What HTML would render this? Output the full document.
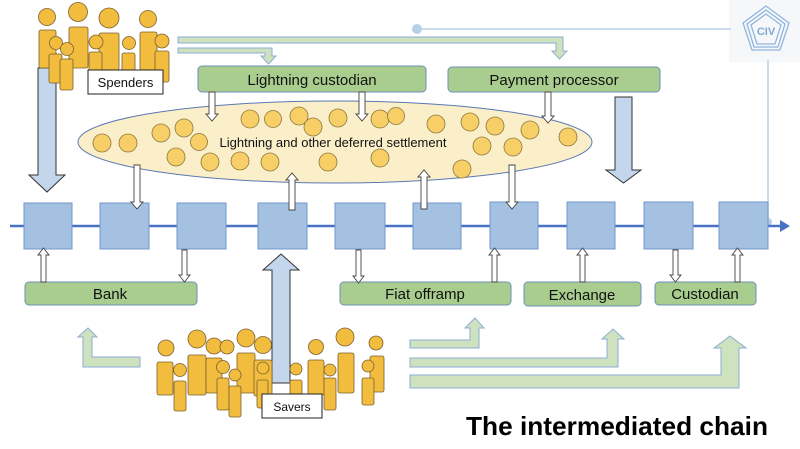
<!DOCTYPE html>
<html><head><meta charset="utf-8"><style>
html,body{margin:0;padding:0;background:#fff;}
svg{display:block;}
text{font-family:"Liberation Sans",sans-serif;}
</style></head><body>
<svg width="800" height="449" viewBox="0 0 800 449" xmlns="http://www.w3.org/2000/svg">
<!-- logo -->
<rect x="729" y="0" width="71" height="62" fill="#f6f7f9"/>
<g fill="none" stroke="#8fb6e0" stroke-width="1.3">
<polygon points="766,6 789,23 780,50 752,50 743,23"/>
<polygon points="766,10 785,24 778,47 754,47 747,24"/>
<polygon points="766,14 781,25 775,44 757,44 751,25"/>
</g>
<text x="766" y="35" font-size="11" font-weight="bold" fill="#7fa8d6" text-anchor="middle">CIV</text>
<line x1="418" y1="29" x2="731" y2="29" stroke="#b8cfe9" stroke-width="1.5"/>
<circle cx="417" cy="29" r="5" fill="#b8cfe9"/>
<line x1="768" y1="60" x2="768" y2="222" stroke="#b8cfe9" stroke-width="1.5"/>
<circle cx="768" cy="222" r="4" fill="#b8cfe9"/>

<!-- main line -->
<line x1="10" y1="226" x2="782" y2="226" stroke="#4a72c4" stroke-width="2.5"/>
<polygon points="790,226 780,220 780,232" fill="#4a72c4"/>
<g fill="#a4c1e2" stroke="#7097cc" stroke-width="1">
<rect x="24" y="203" width="48" height="46"/>
<rect x="100" y="203" width="49" height="46"/>
<rect x="177" y="203" width="49" height="46"/>
<rect x="258" y="203" width="49" height="46"/>
<rect x="335" y="203" width="50" height="46"/>
<rect x="413" y="203" width="48" height="46"/>
<rect x="490" y="202" width="48" height="47"/>
<rect x="567" y="202" width="48" height="47"/>
<rect x="644" y="202" width="49" height="47"/>
<rect x="719" y="202" width="49" height="47"/>
</g>

<!-- top green pipes -->
<g fill="#cfe2c0" stroke="#8eaed4" stroke-width="1">
<path d="M178,37 H563 V51 H567 L559.5,59 L552,51 H556 V43 H178 Z"/>
<path d="M178,48 H272 V56 H276 L268.5,64 L261,56 H265 V53 H178 Z"/>
</g>

<!-- ellipse -->
<ellipse cx="335" cy="142" rx="257" ry="41" fill="#fbefc9" stroke="#5a78b3" stroke-width="1"/>
<g fill="#f7cf66" stroke="#8a7740" stroke-width="0.8">
<circle cx="102" cy="143" r="9"/><circle cx="128" cy="143" r="9"/><circle cx="161" cy="133" r="9"/>
<circle cx="184" cy="128" r="9"/><circle cx="199" cy="142" r="8.5"/><circle cx="176" cy="157" r="9"/>
<circle cx="210" cy="162" r="9"/><circle cx="240" cy="161" r="9"/><circle cx="270" cy="162" r="9"/>
<circle cx="250" cy="119" r="9"/><circle cx="273" cy="119" r="8.5"/><circle cx="299" cy="116" r="9"/>
<circle cx="313" cy="127" r="9"/><circle cx="338" cy="118" r="9"/><circle cx="380" cy="119" r="9"/>
<circle cx="396" cy="116" r="8.5"/><circle cx="380" cy="158" r="9"/><circle cx="328" cy="162" r="9"/>
<circle cx="436" cy="124" r="9"/><circle cx="470" cy="122" r="9"/><circle cx="495" cy="126" r="9"/>
<circle cx="530" cy="130" r="9"/><circle cx="568" cy="137" r="9"/><circle cx="482" cy="146" r="9"/>
<circle cx="513" cy="147" r="9"/><circle cx="462" cy="169" r="9"/>
</g>
<text x="333" y="147" font-size="13" text-anchor="middle" fill="#111">Lightning and other deferred settlement</text>

<!-- green boxes -->
<g fill="#a9cd8e" stroke="#6d8fb8" stroke-width="1">
<rect x="198" y="66" width="228" height="26" rx="4"/>
<rect x="448" y="67" width="212" height="25" rx="4"/>
<rect x="25" y="282" width="172" height="23" rx="4"/>
<rect x="340" y="282" width="171" height="23" rx="4"/>
<rect x="524" y="282" width="117" height="24" rx="4"/>
<rect x="655" y="282" width="101" height="23" rx="4"/>
</g>
<g font-size="15" fill="#111" text-anchor="middle">
<text x="312" y="85">Lightning custodian</text>
<text x="554" y="85">Payment processor</text>
<text x="110" y="299">Bank</text>
<text x="425" y="299">Fiat offramp</text>
<text x="582" y="300">Exchange</text>
<text x="705" y="299">Custodian</text>
</g>

<!-- white arrows -->
<g fill="#fff" stroke="#444" stroke-width="0.9">
<path d="M209,92 h6 v22 h3 l-6,7 l-6,-7 h3z"/>
<path d="M359,92 h6 v22 h3 l-6,7 l-6,-7 h3z"/>
<path d="M545,92 h6 v24 h3 l-6,7 l-6,-7 h3z"/>
<path d="M134,165 h6 v37 h3 l-6,7 l-6,-7 h3z"/>
<path d="M509,165 h6 v37 h3 l-6,7 l-6,-7 h3z"/>
<path d="M289,210 h6 v-30 h3 l-6,-7 l-6,7 h3z"/>
<path d="M421,209 h6 v-32 h3 l-6,-7 l-6,7 h3z"/>
<path d="M41,282 h5 v-27 h3 l-5.5,-7 l-5.5,7 h3z"/>
<path d="M182,250 h5 v25 h3 l-5.5,7 l-5.5,-7 h3z"/>
<path d="M356,250 h5 v26 h3 l-5.5,7 l-5.5,-7 h3z"/>
<path d="M492,282 h5 v-27 h3 l-5.5,-7 l-5.5,7 h3z"/>
<path d="M580,282 h5 v-27 h3 l-5.5,-7 l-5.5,7 h3z"/>
<path d="M673,250 h5 v25 h3 l-5.5,7 l-5.5,-7 h3z"/>
<path d="M735,282 h5 v-27 h3 l-5.5,-7 l-5.5,7 h3z"/>
</g>

<!-- big blue arrows -->
<g fill="#c3d6ec" stroke="#333" stroke-width="1">
<path d="M38,68 h18 v107 h9 l-18,17 l-18,-17 h9z"/>
<path d="M615,97 h17 v73 h9 l-17.5,13 l-17.5,-13 h9z"/>
<path d="M272,383 h18 v-113 h9 l-18,-16 l-18,16 h9z"/>
</g>

<!-- bottom green pipes -->
<g fill="#cfe2c0" stroke="#8eaed4" stroke-width="1">
<path d="M140,357 V367 H83 V337 H78 L88,328 L97,337 H92 V357 Z"/>
<path d="M410,340 V348 H479 V328 H484 L475,318 L465,328 H470 V340 Z"/>
<path d="M410,358 V367 H618 V339 H624 L613,329 L602,339 H607 V358 Z"/>
<path d="M410,375 V388 H739 V348 H746 L730,336 L714,348 H721 V375 Z"/>
</g>

<!-- people -->
<g fill="#f2bc3e" stroke="#7a6030" stroke-width="0.8">
<!-- spenders -->
<rect x="39" y="30" width="17" height="38" rx="2"/><circle cx="47" cy="17" r="8.5"/>
<rect x="69" y="27" width="19" height="41" rx="2"/><circle cx="78" cy="12" r="9.5"/>
<rect x="99" y="33" width="20" height="37" rx="2"/><circle cx="109" cy="18" r="10"/>
<rect x="140" y="32" width="17" height="38" rx="2"/><circle cx="148" cy="19" r="8.5"/>
<rect x="89" y="52" width="13" height="25" rx="2"/><circle cx="96" cy="42" r="7"/>
<rect x="122" y="53" width="13" height="25" rx="2"/><circle cx="129" cy="43" r="6.5"/>
<rect x="155" y="51" width="14" height="31" rx="2"/><circle cx="162" cy="41" r="7"/>
<rect x="49" y="54" width="13" height="29" rx="2"/><circle cx="56" cy="43" r="6.5"/>
<rect x="60" y="59" width="13" height="31" rx="2"/><circle cx="67" cy="49" r="6.5"/>
<!-- savers -->
<rect x="157" y="362" width="16" height="33" rx="2"/><circle cx="166" cy="348" r="8"/>
<rect x="188" y="355" width="18" height="40" rx="2"/><circle cx="197" cy="339" r="9"/>
<rect x="206" y="358" width="16" height="35" rx="2"/><circle cx="214" cy="346" r="8"/><circle cx="227" cy="347" r="7"/>
<rect x="237" y="353" width="18" height="40" rx="2"/><circle cx="246" cy="338" r="9"/>
<rect x="254" y="360" width="18" height="36" rx="2"/><circle cx="263" cy="345" r="8.5"/>
<rect x="308" y="360" width="16" height="35" rx="2"/><circle cx="316" cy="347" r="7.5"/>
<rect x="338" y="353" width="16" height="40" rx="2"/><circle cx="345" cy="337" r="9"/>
<rect x="370" y="356" width="14" height="36" rx="2"/><circle cx="376" cy="343" r="7"/>
<rect x="174" y="381" width="12" height="30" rx="2"/><circle cx="180" cy="370" r="6.5"/>
<rect x="217" y="378" width="12" height="32" rx="2"/><circle cx="223" cy="367" r="6.5"/>
<rect x="229" y="386" width="12" height="31" rx="2"/><circle cx="235" cy="375" r="6"/>
<rect x="257" y="380" width="11" height="28" rx="2"/><circle cx="263" cy="368" r="6"/>
<rect x="290" y="380" width="12" height="28" rx="2"/><circle cx="296" cy="369" r="6"/>
<rect x="324" y="378" width="12" height="32" rx="2"/><circle cx="330" cy="370" r="6"/>
<rect x="362" y="378" width="12" height="27" rx="2"/><circle cx="368" cy="366" r="6"/>
</g>

<!-- labels -->
<rect x="88" y="70" width="75" height="24" fill="#fff" stroke="#222" stroke-width="1"/>
<text x="125.5" y="87" font-size="13" text-anchor="middle" fill="#111">Spenders</text>
<rect x="262" y="394" width="60" height="24" fill="#fff" stroke="#222" stroke-width="1"/>
<text x="292" y="411" font-size="12" text-anchor="middle" fill="#111">Savers</text>

<text x="617" y="435" font-size="26" font-weight="bold" text-anchor="middle" fill="#000" font-family="'DejaVu Sans',sans-serif" textLength="302" lengthAdjust="spacingAndGlyphs">The intermediated chain</text>
</svg>
</body></html>
